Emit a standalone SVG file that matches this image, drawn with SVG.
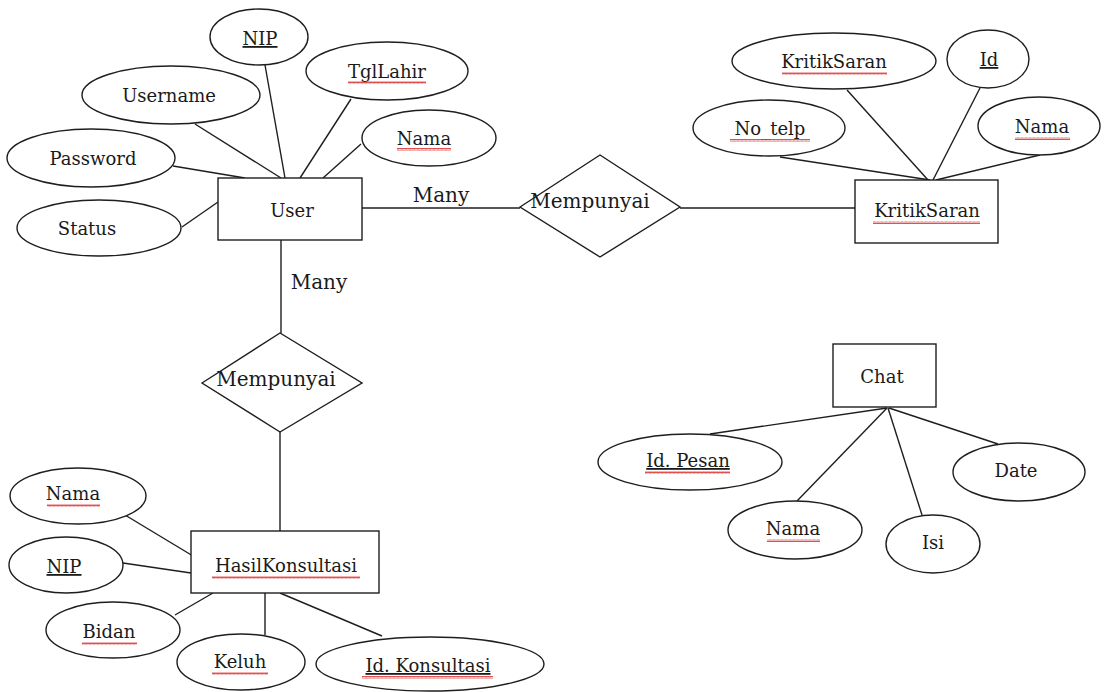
<svg xmlns="http://www.w3.org/2000/svg" width="1110" height="692" viewBox="0 0 1110 692">
<style>
.bg{fill:#fff}
.sh{fill:#fff;stroke:#1e1e1e;stroke-width:1.4}
.ln{stroke:#1e1e1e;stroke-width:1.4;fill:none}
text{font-family:"DejaVu Serif",serif;fill:#1a1a1a;text-anchor:middle}
.t{font-size:18px}
.r{font-size:20px}
.u{text-decoration:underline}
.sq{fill:url(#squig)}
</style>
<defs>
<pattern id="squig" width="4" height="3" patternUnits="userSpaceOnUse">
<path d="M0,2.5 L1,0.5 L2,2.5 L3,0.5 L4,2.5" stroke="#d22" stroke-width="0.8" fill="none"/>
</pattern>
</defs>
<rect class="bg" width="1110" height="692"/>
<g id="connectors">
<line class="ln" x1="195" y1="124" x2="281" y2="178"/>
<line class="ln" x1="265" y1="65" x2="285" y2="178"/>
<line class="ln" x1="351" y1="99" x2="300" y2="178"/>
<line class="ln" x1="361" y1="144" x2="323" y2="178"/>
<line class="ln" x1="173" y1="166" x2="245" y2="178"/>
<line class="ln" x1="182" y1="227" x2="218" y2="202"/>
<line class="ln" x1="362" y1="208" x2="520" y2="208"/>
<line class="ln" x1="680" y1="208" x2="855" y2="208"/>
<line class="ln" x1="281" y1="240" x2="281" y2="333"/>
<line class="ln" x1="280" y1="432" x2="280" y2="531"/>
<line class="ln" x1="780" y1="157" x2="930" y2="180"/>
<line class="ln" x1="847" y1="90" x2="928" y2="180"/>
<line class="ln" x1="980" y1="88" x2="933" y2="180"/>
<line class="ln" x1="1040" y1="155" x2="936" y2="180"/>
<line class="ln" x1="125" y1="515" x2="193" y2="556"/>
<line class="ln" x1="123" y1="563" x2="191" y2="573"/>
<line class="ln" x1="175" y1="615" x2="213" y2="593"/>
<line class="ln" x1="265" y1="593" x2="265" y2="635"/>
<line class="ln" x1="280" y1="593" x2="382" y2="636"/>
<line class="ln" x1="710" y1="434" x2="887" y2="408"/>
<line class="ln" x1="797" y1="501" x2="887" y2="408"/>
<line class="ln" x1="922" y1="515" x2="888" y2="408"/>
<line class="ln" x1="998" y1="444" x2="889" y2="408"/>
<text class="r" x="441" y="202">Many</text>
<text class="r" x="319" y="289">Many</text>
</g>
<g id="user">
<rect class="sh" x="218" y="178" width="144" height="62"/>
<text class="t" x="292" y="217">User</text>
</g>
<g id="attr-user-nip">
<ellipse class="sh" cx="259" cy="37" rx="49" ry="28"/>
<text class="t u" x="260" y="45">NIP</text>
</g>
<g id="attr-user-tgllahir">
<ellipse class="sh" cx="387" cy="71" rx="81" ry="29"/>
<text class="t" x="387" y="78">TglLahir</text>
<rect class="sq" x="348" y="81" width="78" height="3"/>
</g>
<g id="attr-user-username">
<ellipse class="sh" cx="171" cy="95" rx="89" ry="29"/>
<text class="t" x="169" y="102">Username</text>
</g>
<g id="attr-user-nama">
<ellipse class="sh" cx="429" cy="138" rx="67" ry="28"/>
<text class="t" x="424" y="145">Nama</text>
<rect class="sq" x="397" y="148" width="54" height="3"/>
</g>
<g id="attr-user-password">
<ellipse class="sh" cx="91" cy="158" rx="84" ry="29"/>
<text class="t" x="93" y="165">Password</text>
</g>
<g id="attr-user-status">
<ellipse class="sh" cx="99" cy="228" rx="82" ry="28"/>
<text class="t" x="87" y="235">Status</text>
</g>
<g id="rel-mempunyai-1">
<polygon class="sh" points="520,207 600,155 680,207 600,257"/>
<text class="r" x="590" y="208">Mempunyai</text>
</g>
<g id="kritiksaran">
<rect class="sh" x="855" y="180" width="143" height="63"/>
<text class="t" x="927" y="217">KritikSaran</text>
<rect class="sq" x="873" y="221" width="107" height="3"/>
</g>
<g id="attr-ks-kritiksaran">
<ellipse class="sh" cx="834" cy="61" rx="102" ry="28"/>
<text class="t" x="834" y="68">KritikSaran</text>
<rect class="sq" x="782" y="72" width="105" height="3"/>
</g>
<g id="attr-ks-id">
<ellipse class="sh" cx="988" cy="59" rx="41" ry="29"/>
<text class="t u" x="989" y="66">Id</text>
</g>
<g id="attr-ks-notelp">
<ellipse class="sh" cx="769" cy="128" rx="76" ry="28"/>
<text class="t" x="770" y="135">No_telp</text>
<rect class="sq" x="730" y="139" width="80" height="3"/>
</g>
<g id="attr-ks-nama">
<ellipse class="sh" cx="1039" cy="126" rx="61" ry="29"/>
<text class="t" x="1042" y="133">Nama</text>
<rect class="sq" x="1015" y="137" width="55" height="3"/>
</g>
<g id="rel-mempunyai-2">
<polygon class="sh" points="202,383 280,333 362,383 280,432"/>
<text class="r" x="276" y="386">Mempunyai</text>
</g>
<g id="hasilkonsultasi">
<rect class="sh" x="191" y="531" width="188" height="62"/>
<text class="t" x="286" y="572">HasilKonsultasi</text>
<rect class="sq" x="212" y="576" width="148" height="3"/>
</g>
<g id="attr-hk-nama">
<ellipse class="sh" cx="78" cy="496" rx="68" ry="28"/>
<text class="t" x="73" y="500">Nama</text>
<rect class="sq" x="47" y="504" width="53" height="3"/>
</g>
<g id="attr-hk-nip">
<ellipse class="sh" cx="66" cy="565" rx="57" ry="28"/>
<text class="t u" x="64" y="573">NIP</text>
</g>
<g id="attr-hk-bidan">
<ellipse class="sh" cx="113" cy="630" rx="67" ry="28"/>
<text class="t" x="109" y="638">Bidan</text>
<rect class="sq" x="82" y="642" width="55" height="3"/>
</g>
<g id="attr-hk-keluh">
<ellipse class="sh" cx="241" cy="662" rx="64" ry="28"/>
<text class="t" x="240" y="668">Keluh</text>
<rect class="sq" x="212" y="672" width="56" height="3"/>
</g>
<g id="attr-hk-idkonsultasi">
<ellipse class="sh" cx="430" cy="664" rx="114" ry="27"/>
<text class="t u" x="428" y="672">Id. Konsultasi</text>
<rect class="sq" x="362" y="676" width="131" height="3"/>
</g>
<g id="chat">
<rect class="sh" x="833" y="344" width="103" height="63"/>
<text class="t" x="882" y="383">Chat</text>
</g>
<g id="attr-chat-idpesan">
<ellipse class="sh" cx="690" cy="462" rx="92" ry="28"/>
<text class="t u" x="688" y="467">Id. Pesan</text>
<rect class="sq" x="645" y="471" width="85" height="3"/>
</g>
<g id="attr-chat-nama">
<ellipse class="sh" cx="795" cy="530" rx="67" ry="29"/>
<text class="t" x="793" y="535">Nama</text>
<rect class="sq" x="767" y="539" width="53" height="3"/>
</g>
<g id="attr-chat-isi">
<ellipse class="sh" cx="933" cy="544" rx="47" ry="29"/>
<text class="t" x="933" y="549">Isi</text>
</g>
<g id="attr-chat-date">
<ellipse class="sh" cx="1019" cy="472" rx="66" ry="29"/>
<text class="t" x="1016" y="477">Date</text>
</g>
</svg>
